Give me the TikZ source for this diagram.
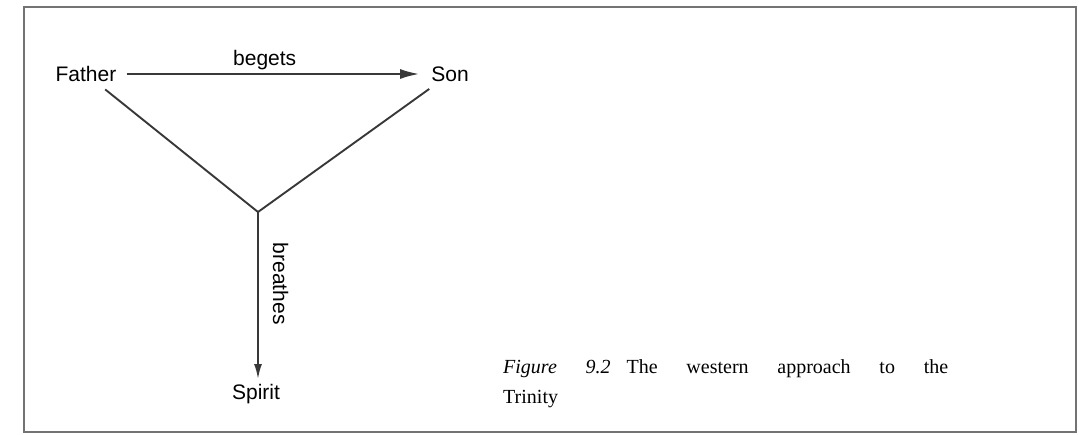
\documentclass[tikz,border=0pt]{standalone}
\usepackage{fontspec}
\setmainfont{Liberation Serif}
\setsansfont{Liberation Sans}
\usetikzlibrary{arrows.meta}

\begin{document}
\begin{tikzpicture}[x=1pt, y=-1pt,
  person/.style={font=\sffamily\fontsize{21}{25}\selectfont, inner sep=5pt},
  relation/.style={font=\sffamily\fontsize{21}{25}\selectfont, inner sep=3pt},
  link/.style={line width=1.9pt, draw=black!78},
  caption/.style={font=\fontsize{20}{30}\selectfont, align=justify, anchor=north west, inner sep=0pt, text width=445pt}
]
  \useasboundingbox (0,0) rectangle (1079,434);
  \draw[line width=1.6pt, black!55] (24,7) rectangle (1076,432);

  \node[person] (father) at (86,74) {Father};
  \node[person] (son) at (450,74) {Son};
  \node[person] (spirit) at (256,394) {Spirit};
  \coordinate (junc) at (258,212);

  \draw[link, shorten <=5pt, shorten >=7pt, -{Latex[length=19pt,width=10pt]}] (father.east) -- node[relation, above, pos=0.47] (begets) {begets} (son.west);
  \draw[link, shorten <=4pt] (father) -- (junc);
  \draw[link, shorten <=4pt] (son) -- (junc);
  \draw[link, -{Latex[length=15pt,width=8pt]}] (junc) -- node[relation, sloped, above=11pt, pos=0.43] (breathes) {breathes} (junc |- spirit.north);

  \node[caption] (caption) at (503,359) {\textit{Figure 9.2}\hspace{0.8em}The western approach to the\linebreak Trinity};
\end{tikzpicture}
\end{document}
